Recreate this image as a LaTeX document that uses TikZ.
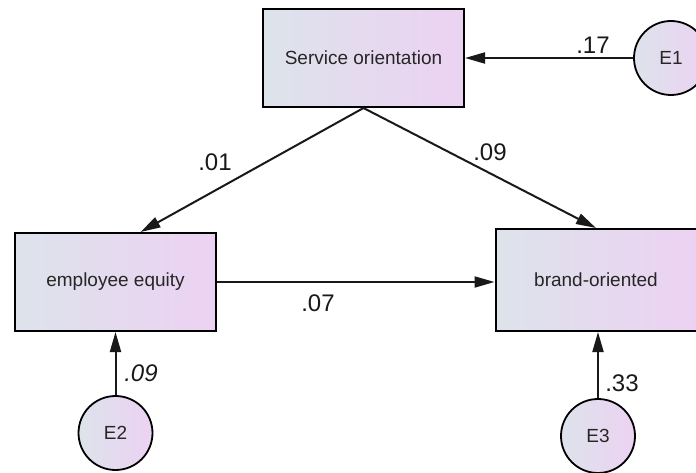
\documentclass[tikz,border=0pt]{standalone}
\usepackage{fontspec}
\setmainfont{Liberation Sans}
\usetikzlibrary{arrows.meta}
\definecolor{shadeL}{HTML}{DDE3EB}
\definecolor{shadeR}{HTML}{ECD2F2}
\tikzset{
  var/.style={draw, line width=2pt, left color=shadeL, right color=shadeR, minimum width=201pt, minimum height=98pt, text=black!85, font=\fontsize{19}{22}\selectfont},
  err/.style={draw, circle, line width=1.8pt, left color=shadeL, right color=shadeR, minimum size=74pt, inner sep=0pt, text=black!85, font=\fontsize{19}{22}\selectfont},
  path/.style={-{Triangle[length=20pt,width=11pt]}, line width=2pt, black!90},
  wt/.style={font=\fontsize{24}{28}\selectfont, text=black!90}
}
\begin{document}
\begin{tikzpicture}[x=1pt,y=-1pt]
\useasboundingbox (0,0) rectangle (696,473);
\clip (0,0) rectangle (696,473);
\node[var] (svc) at (363.5,58) {Service orientation};
\node[var] (emp) at (115.5,282) {employee equity};
\node[var, minimum height=102pt] (brand) at (596,280) {brand-oriented};
\node[err] (e1) at (671,58) {E1};
\node[err] (e2) at (115.5,433) {E2};
\node[err] (e3) at (598,436) {E3};

\draw[path] (e1) -- (svc);
\draw[path] (svc.south) -- ([xshift=25pt]emp.north);
\draw[path] (svc.south) -- (brand.north);
\draw[path] (emp.east) -- (emp.east -| brand.west);
\draw[path] (e2) -- (emp);
\draw[path] (e3.north) -- (e3 |- brand.south);

\node[wt] (w1) at (593,45) {.17};
\node[wt] (w2) at (215,162) {.01};
\node[wt] (w3) at (490,152) {.09};
\node[wt] (w4) at (318,303) {.07};
\node[wt, font=\fontsize{24}{28}\selectfont\itshape] (w5) at (141,373) {.09};
\node[wt] (w6) at (622,383) {.33};
\end{tikzpicture}
\end{document}
